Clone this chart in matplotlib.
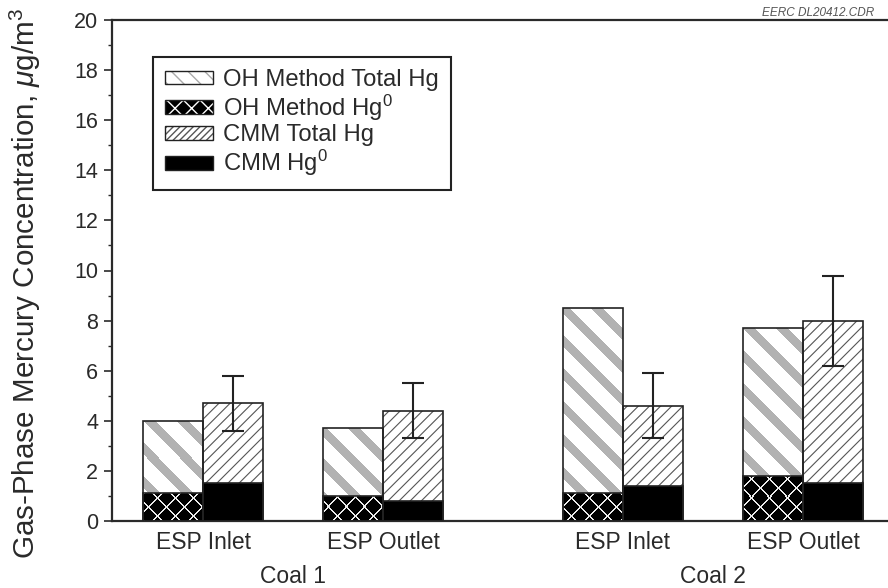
import numpy as np
import matplotlib
matplotlib.use('Agg')
import matplotlib.pyplot as plt
from matplotlib.patches import Patch
from matplotlib.legend_handler import HandlerTuple

plt.rcParams['font.family'] = ['Liberation Sans', 'DejaVu Sans']
plt.rcParams['mathtext.fontset'] = 'custom'
plt.rcParams['mathtext.rm'] = 'Liberation Sans'
plt.rcParams['mathtext.it'] = 'Liberation Sans:italic'
plt.rcParams['mathtext.bf'] = 'Liberation Sans:bold'

# ---------------- data ----------------
groups = ['Coal 1', 'Coal 2']
locations = ['ESP Inlet', 'ESP Outlet', 'ESP Inlet', 'ESP Outlet']
oh_total = [4.0, 3.7, 8.5, 7.7]
oh_hg0 = [1.1, 1.0, 1.1, 1.8]
cmm_total = [4.7, 4.4, 4.6, 8.0]
cmm_hg0 = [1.5, 0.8, 1.4, 1.5]
cmm_err_low = [3.6, 3.3, 3.3, 6.2]
cmm_err_high = [5.8, 5.5, 5.9, 9.8]
yticks = [0, 2, 4, 6, 8, 10, 12, 14, 16, 18, 20]
legend_labels = ['OH Method Total Hg', r'OH Method Hg$^0$', 'CMM Total Hg', r'CMM Hg$^0$']

# ---------------- layout ----------------
centers = np.array([0.0, 3.0, 7.0, 10.0])
bw = 1.0
xlim = (-1.517, 11.417)
W_px, H_px = 888, 588
ax_l, ax_r, ax_t, ax_b = 112, 888, 20, 521

fig = plt.figure(figsize=(W_px / 100, H_px / 100), dpi=100)
ax = fig.add_axes([ax_l / W_px, 1 - ax_b / H_px, (ax_r - ax_l) / W_px, (ax_b - ax_t) / H_px])

txt = '#2a2a2a'
line_c = '#2a2a2a'

x_oh = centers - bw / 2
x_cmm = centers + bw / 2

def set_hlw(patches, lw):
    for p in patches:
        if hasattr(p, 'set_hatch_linewidth'):
            p.set_hatch_linewidth(lw)

H, W = ax_b - ax_t, ax_r - ax_l
ii, jj = np.mgrid[0:H, 0:W]

def textured(bars, img, z):
    for p in bars.patches:
        im = ax.imshow(img, extent=(xlim[0], xlim[1], 0, 20), origin='upper',
                       aspect='auto', interpolation='nearest', zorder=z)
        im.set_clip_path(p)

# OH total: white with wide grey diagonal stripes
oh_base = ax.bar(x_oh, oh_total, width=bw, color='white', linewidth=0, zorder=1)
stripes = np.ones((H, W, 3))
stripes[((ii - jj - 392) % 33) < 12] = 0.70
textured(oh_base, stripes, 1.5)

# OH Hg0: black with white cross pattern
oh_h = ax.bar(x_oh, oh_hg0, width=bw, color='black', linewidth=0, zorder=3)
cross = np.zeros((H, W, 3))
cross[(((ii - jj) % 18) < 2) | (((ii + jj) % 18) < 2)] = 0.92
textured(oh_h, cross, 3.5)

# CMM total: white with fine diagonal hatch
with plt.rc_context({'hatch.linewidth': 0.8}):
    cmm_t = ax.bar(x_cmm, cmm_total, width=bw, facecolor='white', edgecolor='#555555',
                   hatch='///', linewidth=0, zorder=1)
set_hlw(cmm_t.patches, 0.8)
# CMM Hg0: solid black
ax.bar(x_cmm, cmm_hg0, width=bw, color='black', linewidth=0, zorder=3)

# outlines
for xs, vals in [(x_oh, oh_total), (x_oh, oh_hg0), (x_cmm, cmm_total), (x_cmm, cmm_hg0)]:
    ax.bar(xs, vals, width=bw, fill=False, edgecolor='#222222', linewidth=1.2, zorder=4)

# error bars on CMM total
ct = np.array(cmm_total)
yerr = [ct - np.array(cmm_err_low), np.array(cmm_err_high) - ct]
ax.errorbar(x_cmm, ct, yerr=yerr, fmt='none', ecolor='#222222', elinewidth=1.5,
            capsize=8, capthick=1.5, zorder=5)

ax.set_xlim(*xlim)
ax.set_ylim(0, 20)

# axes styling
for s in ['left', 'top', 'bottom']:
    ax.spines[s].set_color(line_c)
    ax.spines[s].set_linewidth(1.6)
ax.spines['right'].set_visible(False)

ax.set_yticks(yticks)
ax.set_yticks(np.arange(1, 20, 2), minor=True)
ax.tick_params(axis='y', which='major', direction='out', length=6, width=1.2,
               colors=line_c, labelcolor=txt, labelsize=15.5, pad=4)
ax.tick_params(axis='y', which='minor', direction='out', length=3, width=1.0, colors=line_c)
ax.set_xticks(centers)
ax.set_xticklabels(locations)
ax.tick_params(axis='x', length=0, labelsize=16.5, labelcolor=txt, pad=7)

ax.set_ylabel(r'Gas-Phase Mercury Concentration, $\mu$g/m$^3$', fontsize=21.3, color=txt)
ax.yaxis.set_label_coords(43 / W_px, 1 - 283 / H_px, transform=fig.transFigure)

# group labels
for g, (a, b) in zip(groups, [(0, 1), (2, 3)]):
    ax.annotate(g, xy=((centers[a] + centers[b]) / 2, 0), xycoords=('data', 'axes fraction'),
                xytext=(0, -32), textcoords='offset points', ha='center', va='top',
                fontsize=16.5, color=txt)

# file tag
fig.text(762 / W_px, 1 - 13 / H_px, 'EERC DL20412.CDR', fontsize=8.5, style='italic',
         color='#555555', ha='left', va='center')

# legend
h1 = (Patch(facecolor='white', edgecolor='#aaaaaa', hatch='\\\\', linewidth=0),
      Patch(fill=False, edgecolor='#222222', linewidth=1.0))
h2 = (Patch(facecolor='black', edgecolor='white', hatch='xx', linewidth=0),
      Patch(fill=False, edgecolor='#222222', linewidth=1.0))
h3 = (Patch(facecolor='white', edgecolor='#555555', hatch='/////', linewidth=0),
      Patch(fill=False, edgecolor='#222222', linewidth=1.0))
h4 = Patch(facecolor='black', edgecolor='#222222', linewidth=1.0)
leg = ax.legend([h1, h2, h3, h4], legend_labels,
                handler_map={tuple: HandlerTuple(ndivide=1, pad=0)},
                loc='upper left', bbox_to_anchor=(153 / W_px, 1 - 57 / H_px),
                bbox_transform=fig.transFigure, borderaxespad=0, fontsize=17.2,
                handlelength=2.0, handleheight=0.5, handletextpad=0.45,
                labelspacing=0.07, borderpad=0.5, fancybox=False, framealpha=1,
                edgecolor='#222222', labelcolor=txt)
leg.get_frame().set_linewidth(1.5)

fig.savefig('out.png', dpi=100)
